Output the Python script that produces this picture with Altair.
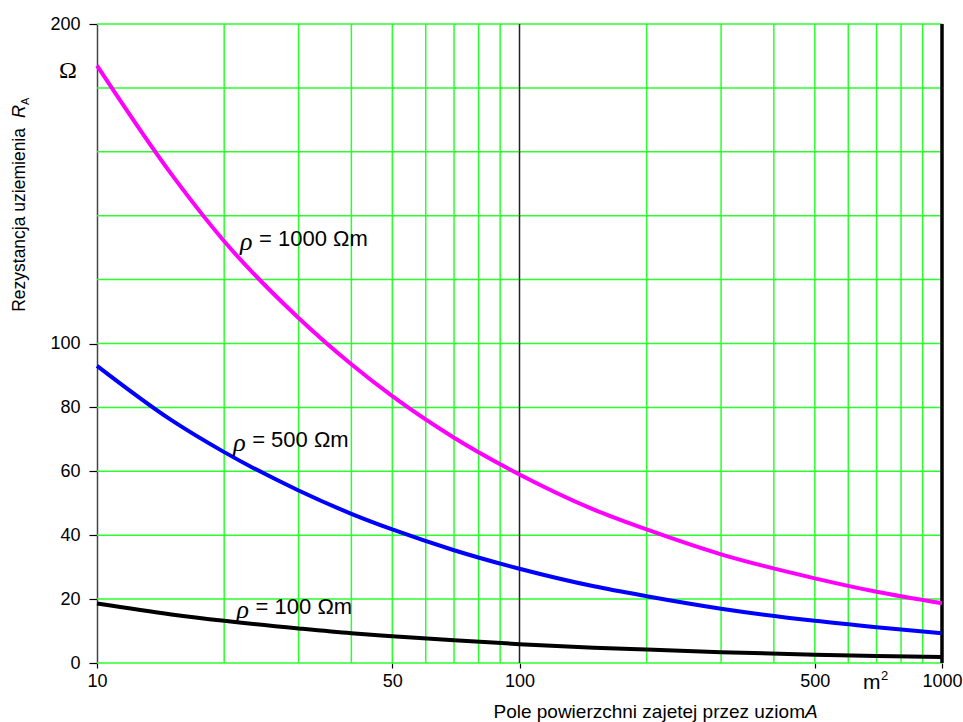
import altair as alt
import pandas as pd

# ---- data ----
area = [10, 15, 20, 30, 40, 50, 70, 100, 150, 200, 300, 500, 700, 1000]
r_1000 = [187, 153, 132, 108, 93.5, 83.5, 70.5, 59, 48, 41.8, 34, 26.5, 22.3, 18.7]
r_500 = [93, 76, 66, 54, 46.7, 41.8, 35.3, 29.5, 24, 20.9, 17, 13.2, 11.2, 9.3]
r_100 = [18.6, 15.2, 13.2, 10.8, 9.3, 8.4, 7.1, 5.9, 4.8, 4.2, 3.4, 2.6, 2.2, 1.9]
series_names = ["1000", "500", "100"]
series_colors = ["#ff00ff", "#0000ff", "#000000"]

x_ticks = [10, 50, 100, 500, 1000]
y_ticks = [0, 20, 40, 60, 80, 100, 200]
x_grid_green = [20, 30, 40, 50, 60, 70, 80, 90, 200, 300, 400, 500, 600, 700, 800, 900]
y_grid = [0, 20, 40, 60, 80, 100, 120, 140, 160, 180, 200]

label_texts = ["= 1000 \u03a9m", "= 500 \u03a9m", "= 100 \u03a9m"]
label_A = [21.8, 21.0, 21.4]
label_R = [132.8, 69.7, 17.5]

W, H = 845, 639

rows = []
for name, vals in zip(series_names, [r_1000, r_500, r_100]):
    for a, r in zip(area, vals):
        rows.append({"A": a, "R": r, "series": name})
df = pd.DataFrame(rows)

xs = alt.Scale(type="log", domain=[10, 1000], nice=False)
ys = alt.Scale(domain=[0, 200], nice=False, zero=False)

x_axis = alt.Axis(
    values=x_ticks,
    title=None,
    grid=False,
    domain=False,
    tickColor="#000000",
    tickSize=5,
    tickWidth=1.2,
    labelFontSize=18,
    labelFont="Liberation Sans",
    labelColor="#000000",
    labelPadding=4,
    labelFlush=False,
    labelOverlap=False,
    format="d",
)
y_axis = alt.Axis(
    values=y_ticks,
    title=None,
    grid=False,
    domain=True,
    domainColor="#444444",
    domainWidth=1.5,
    tickColor="#000000",
    tickSize=8,
    tickWidth=1.2,
    labelFontSize=18,
    labelFont="Liberation Sans",
    labelColor="#000000",
    labelPadding=9,
    labelOverlap=False,
    format="d",
)


def X(field="A:Q"):
    return alt.X(field, scale=xs, axis=x_axis)


def Y(field="R:Q"):
    return alt.Y(field, scale=ys, axis=y_axis)


GREEN = "#2bff2b"

vgrid = alt.Chart(pd.DataFrame({"A": x_grid_green})).mark_rule(
    color=GREEN, strokeWidth=1.5
).encode(x=X())

hgrid = alt.Chart(pd.DataFrame({"R": y_grid})).mark_rule(
    color=GREEN, strokeWidth=1.5
).encode(y=Y())

rule100 = alt.Chart(pd.DataFrame({"A": [100]})).mark_rule(
    color="#222222", strokeWidth=1.5
).encode(x=X())

rule1000 = alt.Chart(pd.DataFrame({"A": [1000]})).mark_rule(
    color="#000000", strokeWidth=3.5
).encode(x=X())

lines = alt.Chart(df).mark_line(strokeWidth=4, interpolate="monotone").encode(
    x=X(),
    y=Y(),
    color=alt.Color(
        "series:N",
        scale=alt.Scale(domain=series_names, range=series_colors),
        legend=None,
    ),
    detail="series:N",
)

ldf = pd.DataFrame({"A": label_A, "R": label_R, "t": label_texts})
rho = alt.Chart(ldf).mark_text(
    text="\u03c1", font="Liberation Serif", fontStyle="italic", fontSize=26,
    align="left", baseline="middle", color="#000000", dy=3
).encode(x=X(), y=Y())
rest = alt.Chart(ldf).mark_text(
    font="Liberation Sans", fontSize=22, align="left", baseline="middle",
    color="#000000", dx=19
).encode(x=X(), y=Y(), text="t:N")

omega = alt.Chart(pd.DataFrame({"R": [185.3]})).mark_text(
    text="\u03a9", font="Liberation Serif", fontSize=24, align="center",
    baseline="middle", color="#000000"
).encode(x=alt.value(-29), y=Y())

m2 = alt.Chart(pd.DataFrame({"A": [650]})).mark_text(
    text="m", font="Liberation Sans", fontSize=21, align="left",
    baseline="middle", color="#000000"
).encode(x=X(), y=alt.value(H + 20))
m2sup = alt.Chart(pd.DataFrame({"A": [650]})).mark_text(
    text="2", font="Liberation Sans", fontSize=13, align="left",
    baseline="middle", color="#000000", dx=18
).encode(x=X(), y=alt.value(H + 13))

xtitle = alt.Chart(pd.DataFrame({"A": [1]})).mark_text(
    text="Pole powierzchni zajetej przez uziom", font="Liberation Sans",
    fontSize=19, align="right", baseline="middle", color="#000000"
).encode(x=alt.value(708), y=alt.value(H + 49))
xtitleA = alt.Chart(pd.DataFrame({"A": [1]})).mark_text(
    text="A", font="Liberation Sans", fontStyle="italic",
    fontSize=19, align="left", baseline="middle", color="#000000"
).encode(x=alt.value(708), y=alt.value(H + 49))

ytitle = alt.Chart(pd.DataFrame({"A": [1]})).mark_text(
    text="Rezystancja uziemienia", font="Liberation Sans", fontSize=17.5,
    align="right", baseline="middle", angle=270, color="#000000"
).encode(x=alt.value(-77), y=alt.value(104))
ytitleR = alt.Chart(pd.DataFrame({"A": [1]})).mark_text(
    text="R", font="Liberation Sans", fontStyle="italic", fontSize=18,
    align="left", baseline="middle", angle=270, color="#000000"
).encode(x=alt.value(-77), y=alt.value(94))
ytitleA = alt.Chart(pd.DataFrame({"A": [1]})).mark_text(
    text="A", font="Liberation Sans", fontSize=11,
    align="left", baseline="middle", angle=270, color="#000000"
).encode(x=alt.value(-71), y=alt.value(81))

chart = alt.layer(
    vgrid, hgrid, rule100, rule1000, lines, rho, rest, omega, m2, m2sup,
    xtitle, xtitleA, ytitle, ytitleR, ytitleA
).properties(
    width=W,
    height=H,
    autosize=alt.AutoSizeParams(type="none"),
    padding={"left": 97, "top": 24, "right": 21, "bottom": 59},
    background="#ffffff",
).configure_view(stroke=None)

chart.save("out.html", embed_options={"renderer": "svg", "actions": False})
